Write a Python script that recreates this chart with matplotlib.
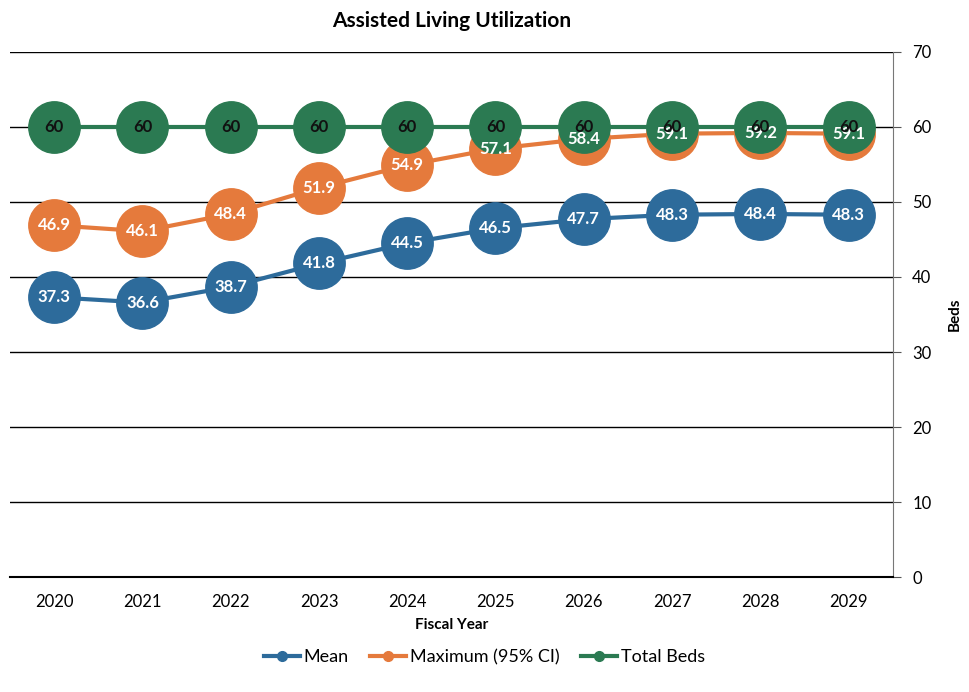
import matplotlib
matplotlib.use("Agg")
import matplotlib.pyplot as plt

plt.rcParams["font.family"] = ["Lato", "DejaVu Sans"]

years = ["2020", "2021", "2022", "2023", "2024", "2025", "2026", "2027", "2028", "2029"]
mean_beds = [37.3, 36.6, 38.7, 41.8, 44.5, 46.5, 47.7, 48.3, 48.4, 48.3]
max_beds = [46.9, 46.1, 48.4, 51.9, 54.9, 57.1, 58.4, 59.1, 59.2, 59.1]
total_beds = [60, 60, 60, 60, 60, 60, 60, 60, 60, 60]

series = [
    ("Mean", mean_beds, "#2d6b9b", "white"),
    ("Maximum (95% CI)", max_beds, "#e57a3c", "white"),
    ("Total Beds", total_beds, "#2b7a52", "#111111"),
]

fig = plt.figure(figsize=(9.69, 6.92), dpi=100)
ax = fig.add_axes([0.0103, 0.166, 0.911, 0.759])

x = list(range(len(years)))
for i, (name, vals, color, txt) in enumerate(series):
    ax.plot(x, vals, color=color, lw=3, marker="o", ms=37,
            markerfacecolor=color, markeredgecolor=color, label=name, zorder=3 + i * 0.1)
    for xi, v in zip(x, vals):
        label = f"{v:g}" if v == int(v) else f"{v:.1f}"
        ax.text(xi, v, label, ha="center", va="center", fontsize=12,
                fontweight="bold", color=txt, zorder=5)

ax.set_xlim(-0.5, len(years) - 0.5)
ax.set_ylim(0, 70)
ax.set_yticks(range(0, 71, 10))
ax.yaxis.tick_right()
ax.yaxis.set_label_position("right")
ax.set_ylabel("Beds", fontsize=11, fontweight="bold", labelpad=12)
ax.set_xticks(x)
ax.set_xticklabels(years, fontsize=12)
ax.tick_params(axis="x", length=0, pad=12)
ax.tick_params(axis="y", length=6, labelsize=12, color="#555555", pad=8)
ax.set_xlabel("Fiscal Year", fontsize=11, fontweight="bold", labelpad=6)

ax.grid(axis="y", color="black", lw=1)
ax.set_axisbelow(True)
for side in ["left", "top"]:
    ax.spines[side].set_visible(False)
ax.spines["right"].set_color("#777777")
ax.spines["bottom"].set_color("black")
ax.spines["bottom"].set_linewidth(1.5)

ax.set_title("Assisted Living Utilization", fontsize=15, fontweight="bold", pad=18)

labels = [s[0] for s in series]
leg_handles = [plt.Line2D([], [], color=c, lw=3, marker="o", ms=7) for _, _, c, _ in series]
fig.legend(leg_handles, labels, loc="center", bbox_to_anchor=(0.5, 0.05), ncol=3,
           frameon=False, fontsize=13, handlelength=2.0, columnspacing=1.2, handletextpad=0.2)

fig.savefig("out.png", dpi=100, facecolor="white")
